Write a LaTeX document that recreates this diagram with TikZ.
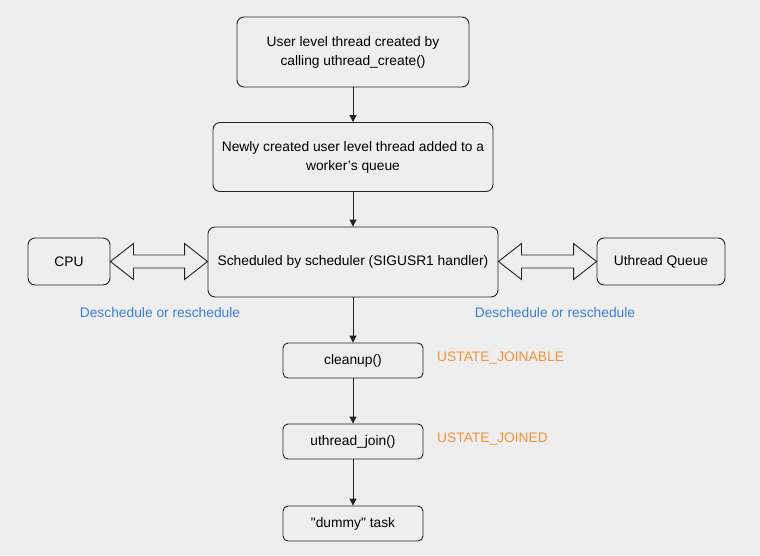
\documentclass[tikz,border=0pt]{standalone}
\usepackage{fontspec}
\setmainfont{Liberation Sans}
\usetikzlibrary{arrows.meta,calc}
\definecolor{bgc}{HTML}{EEEEEE}
\definecolor{bluet}{HTML}{3D7DD8}
\definecolor{orangt}{HTML}{F5923A}
\definecolor{linec}{HTML}{222222}
\begin{document}
\begin{tikzpicture}[x=1pt,y=-1pt,
  box/.style={draw=linec,line width=0.9pt,rounded corners=7pt,fill=bgc,align=center,
    font=\fontsize{13.8}{19}\selectfont,inner sep=0pt},
  sbox/.style={box,rounded corners=5pt},
  flow/.style={draw=linec,line width=0.9pt,-{Triangle[length=7pt,width=7pt]}},
  dbl/.style={draw=linec,line width=0.9pt,fill=bgc,line join=miter},
  lblb/.style={text=bluet,font=\fontsize{13.8}{16}\selectfont},
  lblo/.style={text=orangt,font=\fontsize{13.8}{16}\selectfont,anchor=west,inner sep=0pt}]
\fill[bgc] (0,0) rectangle (760,555);
\useasboundingbox (0,0) rectangle (760,555);

\node[box,minimum width=232pt,minimum height=70pt] (create) at (353,52)
  {User level thread created by\\calling uthread\_create()};
\node[box,minimum width=280pt,minimum height=69pt] (queue) at (353,157)
  {Newly created user level thread added to a\\worker's queue};
\node[box,minimum width=290pt,minimum height=70pt] (sched) at (353,262)
  {Scheduled by scheduler (SIGUSR1 handler)};
\node[box,minimum width=82pt,minimum height=47pt] (cpu) at (69,261.5) {CPU};
\node[box,minimum width=128pt,minimum height=47pt] (uq) at (661,261.5) {Uthread Queue};
\node[sbox,minimum width=140pt,minimum height=35pt] (clean) at (353,360.5) {cleanup()};
\node[sbox,minimum width=140pt,minimum height=35pt] (join) at (353,441.5) {uthread\_join()};
\node[sbox,minimum width=140pt,minimum height=35pt] (dummy) at (353,523.5) {\textquotedbl dummy\textquotedbl{} task};

\node[lblb] (l1) at (160,313) {Deschedule or reschedule};
\node[lblb] (l2) at (555,313) {Deschedule or reschedule};
\node[lblo] (s1) at (437,358) {USTATE\_JOINABLE};
\node[lblo] (s2) at (437,439) {USTATE\_JOINED};

\draw[flow] (create) -- (queue);
\draw[flow] (queue) -- (sched);
\draw[flow] (sched) -- (clean);
\draw[flow] (clean) -- (join);
\draw[flow] (join) -- (dummy);

\draw[dbl] (cpu.east) -- ($(cpu.east)+(23,-18)$) -- ($(cpu.east)+(23,-6.5)$)
  -- ($(sched.west |- cpu.east)+(-23,-6.5)$) -- ($(sched.west |- cpu.east)+(-23,-18)$)
  -- (sched.west |- cpu.east) -- ($(sched.west |- cpu.east)+(-23,18)$)
  -- ($(sched.west |- cpu.east)+(-23,6.5)$) -- ($(cpu.east)+(23,6.5)$)
  -- ($(cpu.east)+(23,18)$) -- cycle;
\draw[dbl] (sched.east |- uq.west) -- ($(sched.east |- uq.west)+(23,-18)$) -- ($(sched.east |- uq.west)+(23,-6.5)$)
  -- ($(uq.west)+(-23,-6.5)$) -- ($(uq.west)+(-23,-18)$)
  -- (uq.west) -- ($(uq.west)+(-23,18)$)
  -- ($(uq.west)+(-23,6.5)$) -- ($(sched.east |- uq.west)+(23,6.5)$)
  -- ($(sched.east |- uq.west)+(23,18)$) -- cycle;
\end{tikzpicture}
\end{document}
